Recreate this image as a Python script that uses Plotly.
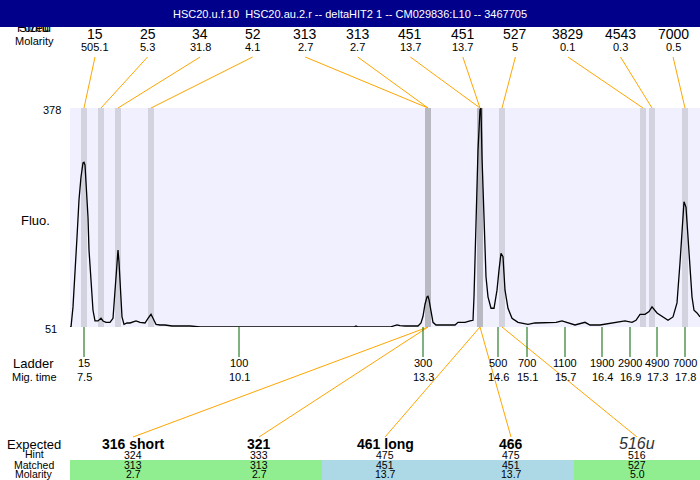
import plotly.graph_objects as go

# ---------------- data ----------------
title_text = "HSC20.u.f.10  HSC20.au.2.r -- deltaHIT2 1 -- CM029836:L10 -- 3467705"

# electropherogram (x = trace position, y = fluorescence)
curve_x = [70, 71, 73, 75, 77, 79, 81, 83, 84, 85, 86, 88, 89, 91, 93, 95, 98, 101, 103, 106, 110,
           113, 115, 117, 118, 119, 120, 122, 124, 127, 130, 133, 136, 140, 145, 148, 151, 153, 156,
           160, 165, 172, 190, 200, 250, 300, 354, 356, 358, 390, 394, 397, 400, 405, 418, 421,
           423, 425, 427, 428, 429, 431, 433, 436, 445, 455, 458, 465, 470, 473, 474, 476, 478,
           480, 481, 482, 484, 486, 488, 491, 494, 497, 499, 501, 503, 505, 508, 512, 518, 528,
           535, 550, 556, 562, 568, 575, 585, 590, 600, 615, 625, 632, 636, 640, 645, 649, 652,
           657, 662, 668, 673, 677, 680, 682, 684, 686, 688, 690, 692, 694, 697, 700]
curve_y = [51, 51, 81, 126, 185, 241, 275, 296, 297, 293, 266, 215, 166, 117, 76, 60, 60, 64, 60, 58, 58,
           64, 106, 158, 166, 148, 117, 66, 55, 57, 57, 58, 60, 58, 57, 64, 70, 64, 55,
           54, 54, 52.5, 52.5, 51, 51, 51, 51, 52.5, 51, 51, 53, 54, 53, 52.5, 52.5, 57,
           67, 85, 96, 97, 92, 72, 58, 54, 54, 54, 58, 58, 60, 61, 96, 206, 315,
           375, 378, 305, 206, 126, 96, 79, 79, 106, 136, 161, 156, 106, 79, 64, 58, 55,
           57, 57, 58, 60, 57, 54, 58, 54, 54, 57, 60, 58, 61, 70, 70, 74, 81,
           72, 67, 61, 66, 87, 147, 196, 238, 230, 185, 136, 96, 76, 72, 66]
y_min, y_max = 51, 378

# called peaks (top labels)
peak_sizes = ["15", "25", "34", "52", "313", "313", "451", "451", "527", "3829", "4543", "7000"]
peak_molarity = ["505.1", "5.3", "31.8", "4.1", "2.7", "2.7", "13.7", "13.7", "5", "0.1", "0.3", "0.5"]
peak_x = [84, 101, 118, 151, 428, 428, 480, 480, 502, 643, 652, 685]
peak_matched = [False, False, False, False, True, True, True, True, False, False, False, False]

# ladder
ladder_sizes = ["15", "100", "300", "500", "700", "1100", "1900", "2900", "4900", "7000"]
ladder_times = ["7.5", "10.1", "13.3", "14.6", "15.1", "15.7", "16.4", "16.9", "17.3", "17.8"]
ladder_x = [84, 239, 423, 498, 527, 565, 602, 630, 657, 685]

# expected fragments table
expected_labels = ["316 short", "321", "461 long", "466", "516u"]
expected_bold = [True, True, True, True, False]
hint_values = ["324", "333", "475", "475", "516"]
matched_values = ["313", "313", "451", "451", "527"]
matched_molarity = ["2.7", "2.7", "13.7", "13.7", "5.0"]
matched_peak_x = [428, 428, 480, 480, 502]
row_colors = ["#90EE90", "#90EE90", "#ADD8E6", "#ADD8E6", "#90EE90"]

# ---------------- layout constants (pixels) ----------------
W, H = 700, 480
PX0, PX1 = 70, 700      # plot area x
PY0, PY1 = 108, 327     # plot area y (top, bottom)
FONT = "Liberation Sans, Arial, sans-serif"
ORANGE = "#FFA500"
GREEN = "#006400"


def xpx(v):
    return PX0 + (v - curve_x[0]) / (curve_x[-1] - curve_x[0]) * (PX1 - PX0)


fig = go.Figure()

# main trace
fig.add_trace(go.Scatter(x=curve_x, y=curve_y, mode="lines",
                         line=dict(color="black", width=1.3), xaxis="x", yaxis="y",
                         hoverinfo="skip", showlegend=False))

# orange connectors top
slot0, slot_step = 95, 52.55
ox, oy = [], []
for i, px in enumerate(peak_x):
    ox += [slot0 + i * slot_step, xpx(px), None]
    oy += [57, PY0, None]
# orange connectors bottom
col0, col_w = 70, 126
for i, px in enumerate(matched_peak_x):
    ox += [xpx(px), col0 + col_w * (i + 0.5), None]
    oy += [PY1, 437, None]
fig.add_trace(go.Scatter(x=ox, y=oy, mode="lines", line=dict(color=ORANGE, width=1),
                         xaxis="x2", yaxis="y2", hoverinfo="skip", showlegend=False))

# ladder ticks
lx, ly = [], []
for px in ladder_x:
    lx += [xpx(px), xpx(px), None]
    ly += [PY1, 357, None]
fig.add_trace(go.Scatter(x=lx, y=ly, mode="lines", line=dict(color=GREEN, width=1),
                         xaxis="x2", yaxis="y2", hoverinfo="skip", showlegend=False))

# partially hidden header text (under title bar)
fig.add_trace(go.Scatter(x=[34, 34], y=[29, 29], mode="text", text=["Sized", "Found"],
                         textfont=dict(family=FONT, size=12, color="black"),
                         xaxis="x2", yaxis="y2", hoverinfo="skip", showlegend=False))

shapes = []
# plot area background
shapes.append(dict(type="rect", xref="x domain", yref="y domain", x0=0, x1=1, y0=0, y1=1,
                   fillcolor="#F0F0FF", line=dict(width=0), layer="below"))
# peak bands
for px, m in zip(peak_x, peak_matched):
    shapes.append(dict(type="rect", xref="x", yref="y domain", x0=px - 3, x1=px + 3, y0=0, y1=1,
                       fillcolor="#B9B9C3" if m else "#D3D3E0", line=dict(width=0), layer="below"))
# table row fills
for i, c in enumerate(row_colors):
    shapes.append(dict(type="rect", xref="x2", yref="y2", x0=col0 + col_w * i, x1=col0 + col_w * (i + 1),
                       y0=460, y1=480, fillcolor=c, line=dict(width=0), layer="below"))
# title bar
shapes.append(dict(type="rect", xref="paper", yref="paper", x0=0, x1=1, y0=1 - 27 / H, y1=1,
                   fillcolor="#00008B", line=dict(width=0), layer="above"))

ann = []


def text(x, y, s, size=11, bold=False, italic=False, color="black"):
    if bold:
        s = "<b>" + s + "</b>"
    if italic:
        s = "<i>" + s + "</i>"
    ann.append(dict(x=x, y=y, xref="x2", yref="y2", text=s, showarrow=False,
                    xanchor="center", yanchor="middle",
                    font=dict(family=FONT, size=size, color=color)))


# title
ann.append(dict(x=350, y=14, xref="x2", yref="y2", text=title_text, showarrow=False,
                xanchor="center", yanchor="middle", font=dict(family=FONT, size=11, color="white")))

text(34, 41, "Molarity", 11)
for i, (s, m) in enumerate(zip(peak_sizes, peak_molarity)):
    x = slot0 + i * slot_step
    text(x, 34, s, 14)
    text(x, 47, m, 11)

text(52, 110, str(y_max), 11)
text(51, 329, str(y_min), 11)
text(35, 220, "Fluo.", 13)

text(33, 363, "Ladder", 13)
text(34, 377, "Mig. time", 11)
for px, s, t in zip(ladder_x, ladder_sizes, ladder_times):
    text(xpx(px), 363, s, 11)
    text(xpx(px), 377, t, 11)

text(34, 444, "Expected", 13)
text(34, 454, "Hint", 10.5)
text(34, 465, "Matched", 10.5)
text(34, 474, "Molarity", 10.5)
for i in range(len(expected_labels)):
    cx = col0 + col_w * (i + 0.5)
    if expected_bold[i]:
        text(cx, 444, expected_labels[i], 14, bold=True)
    else:
        text(cx, 443, expected_labels[i], 16, italic=True, color="#333333")
    text(cx, 455, hint_values[i], 10.5)
    text(cx, 465, matched_values[i], 10.5)
    text(cx, 474, matched_molarity[i], 10.5)

fig.update_layout(
    width=W, height=H, margin=dict(l=0, r=0, t=0, b=0),
    paper_bgcolor="white", plot_bgcolor="rgba(0,0,0,0)",
    showlegend=False, shapes=shapes, annotations=ann,
    xaxis=dict(domain=[PX0 / W, PX1 / W], range=[curve_x[0], curve_x[-1]], visible=False,
               fixedrange=True, anchor="y"),
    yaxis=dict(domain=[1 - PY1 / H, 1 - PY0 / H], range=[y_min, y_max], visible=False,
               fixedrange=True, anchor="x"),
    xaxis2=dict(domain=[0, 1], range=[0, W], visible=False, fixedrange=True, anchor="y2"),
    yaxis2=dict(domain=[0, 1], range=[H, 0], visible=False, fixedrange=True, anchor="x2"),
)

fig.write_html("out.html", config={"displayModeBar": False},
               post_script="document.body.style.margin='0';document.body.style.overflow='hidden';")
